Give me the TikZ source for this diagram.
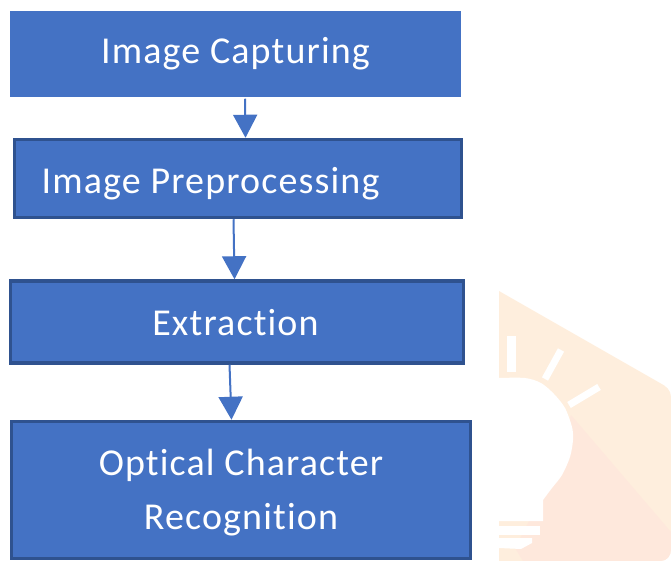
\documentclass[tikz,border=0pt]{standalone}
\usepackage{fontspec}
\setmainfont[LetterSpace=3,Ligatures=NoCommon]{Carlito}
\usetikzlibrary{arrows.meta}
\definecolor{boxblue}{HTML}{4472C4}
\definecolor{boxedge}{HTML}{2F528F}
\definecolor{bgorange}{HTML}{FEEEDD}
\definecolor{bgsalmon}{HTML}{FEE8DC}
\tikzset{
  flowbox/.style={fill=boxblue,text=white,draw=boxedge,line width=3.5pt,inner sep=0pt,
    align=center,font=\fontsize{38}{54}\selectfont},
  flowarrow/.style={-{Triangle[width=24pt,length=23pt]},boxblue,line width=2pt},
  rayline/.style={white,line width=7pt}
}
\newcommand{\lowertext}[2]{\raisebox{-#1}[\height][\depth]{#2}}
\begin{document}
\begin{tikzpicture}[x=1pt,y=-1pt]
  \useasboundingbox (0,0) rectangle (671,561);

  % Lamp in the background
  \fill[bgorange] (499,291) -- (660,383) .. controls (666,386) and (671,390) .. (671,397) -- (671,549)
    .. controls (671,556) and (667,561) .. (660,561) -- (499,561) -- cycle;
  \fill[bgsalmon] (571,415) -- (671,532) -- (671,549) .. controls (671,556) and (667,561) .. (660,561)
    -- (523,561) -- (515,548) -- (540,500) -- cycle;
  \fill[white] plot[smooth] coordinates {(499,378) (525,378) (541,383) (554,394) (565,408) (572,427)
    (573,440) (570,457) (562,475) (552,488) (543,500)} -- (543,521) -- (499,521) -- cycle;
  \fill[white] (499,526) rectangle (540,535);
  \fill[white] (499,538) -- (532,538) -- (532,543) -- (521,549) -- (499,548) -- cycle;
  \fill[white] (507,336) rectangle (516,372);
  \draw[rayline] (561,350) -- (545,379);
  \draw[rayline] (599,387) -- (569,405);

  % Boxes
  \node[flowbox,draw=none,minimum width=451pt,minimum height=86pt] (capturing) at (235.5,54) {Image Capturing};
  \node[flowbox,minimum width=447pt,minimum height=78pt] (preprocessing) at (238,178.5) {\lowertext{5pt}{Image Preprocessing}\hspace{55pt}};
  \node[flowbox,minimum width=453pt,minimum height=82pt] (extraction) at (237,322) {\lowertext{1pt}{Extraction}\hspace{3pt}};
  \node[flowbox,minimum width=459pt,minimum height=137pt] (recognition) at (241,490) {\lowertext{3pt}{Optical Character}\hspace{3pt}\\\lowertext{3pt}{Recognition}\hspace{3pt}};

  % Arrows
  \draw[flowarrow] ([xshift=9.5pt]capturing.south) -- ([xshift=7.5pt]preprocessing.north);
  \draw[flowarrow] ([xshift=-4.5pt]preprocessing.south) -- ([xshift=-2.5pt]extraction.north);
  \draw[flowarrow] ([xshift=-7.5pt]extraction.south) -- ([xshift=-9.5pt]recognition.north);
\end{tikzpicture}
\end{document}
